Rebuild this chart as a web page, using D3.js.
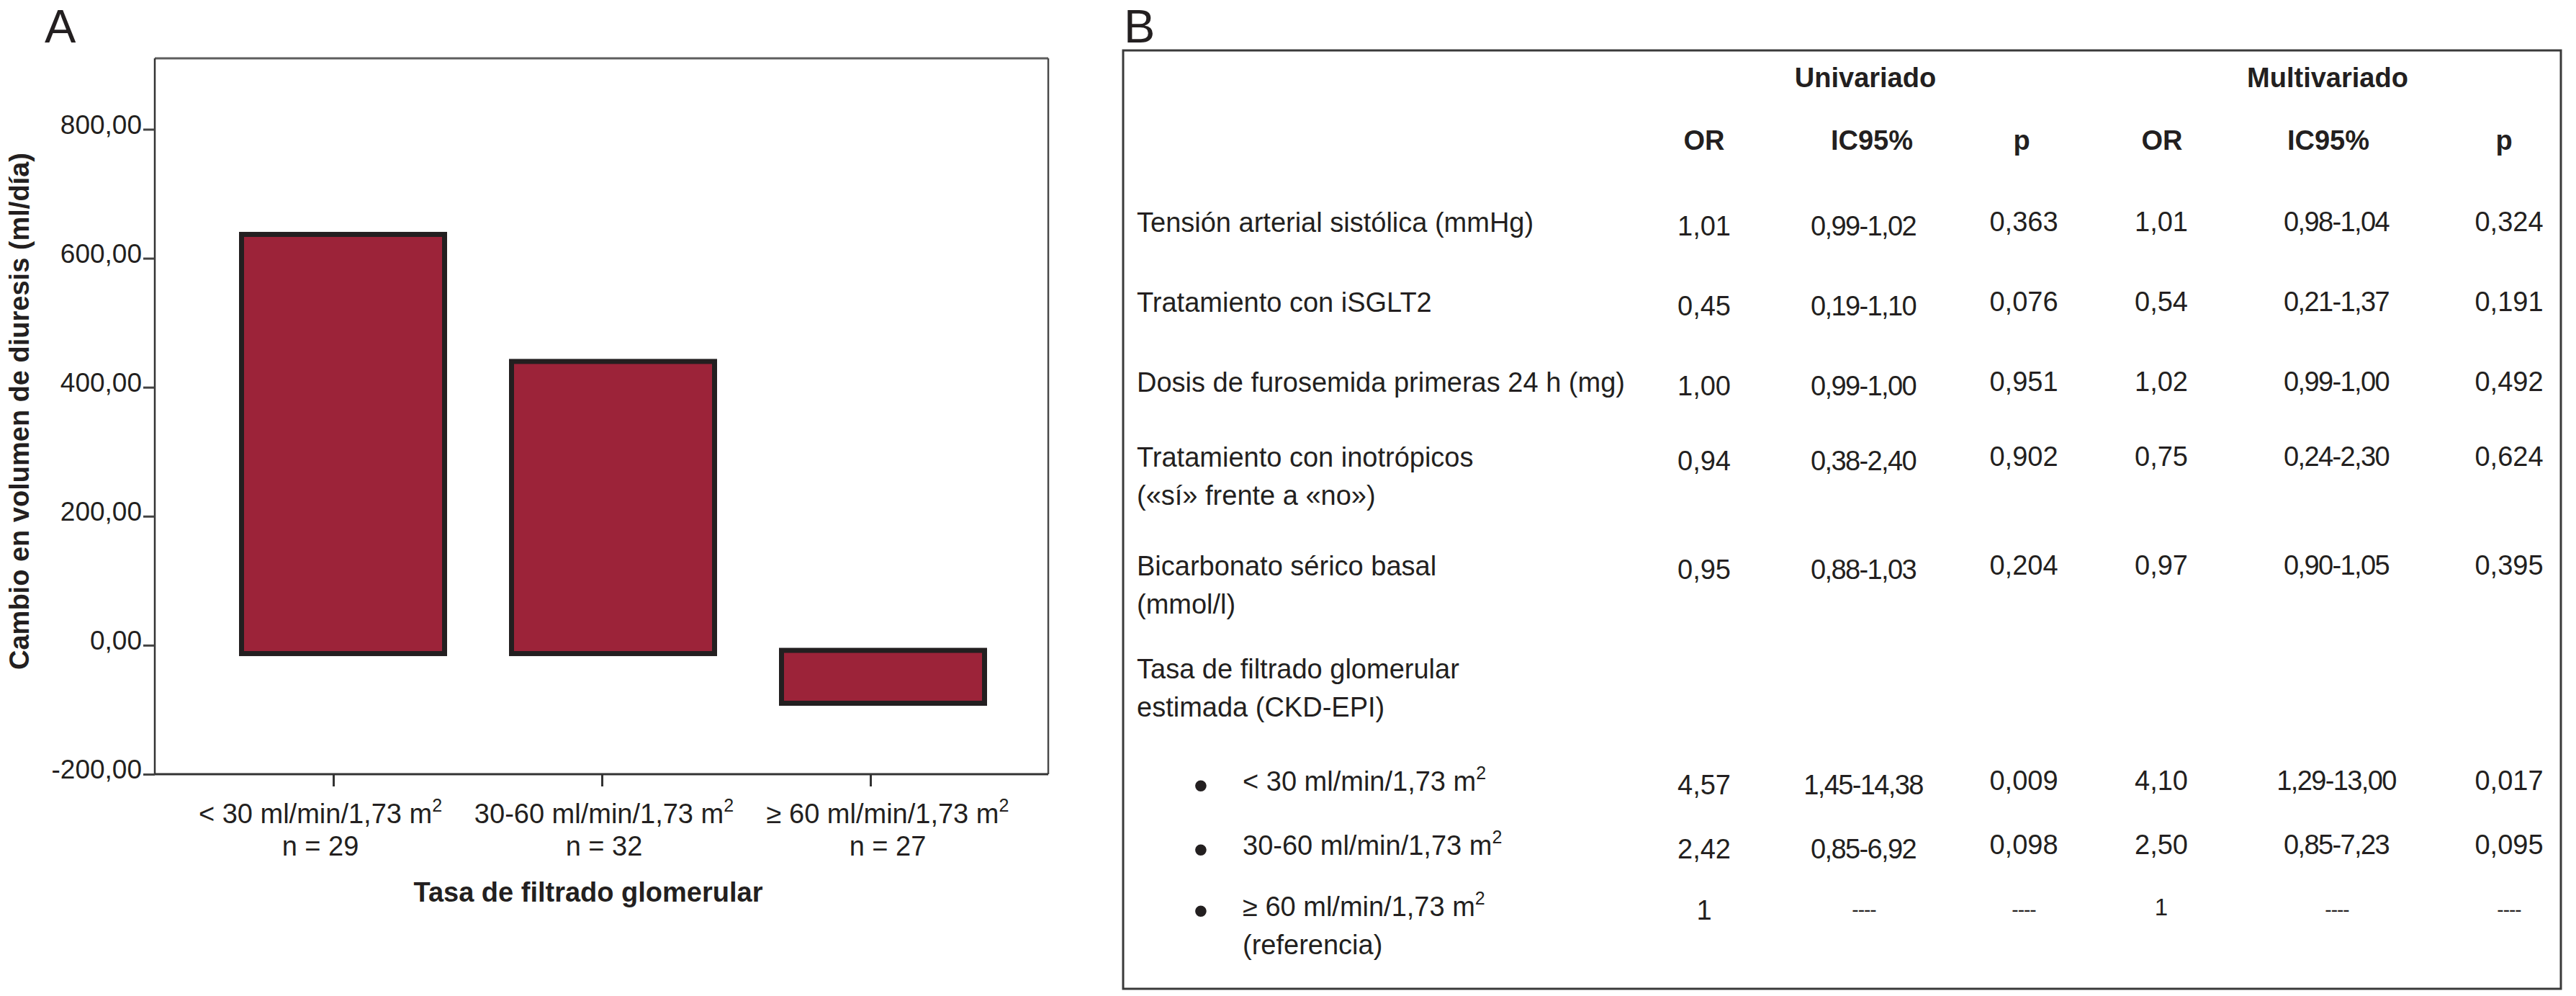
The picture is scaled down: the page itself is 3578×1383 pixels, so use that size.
<!DOCTYPE html>
<html>
<head>
<meta charset="utf-8">
<script src="https://cdn.jsdelivr.net/npm/d3@7"></script>
<style>
html,body{margin:0;padding:0;background:#fff;}
svg{display:block;}
text{font-family:"Liberation Sans", Arial, Helvetica, sans-serif; fill:#231f20;}
</style>
</head>
<body>
<svg id="c" width="3578" height="1383"></svg>
<script>
// ---------------- DATA ----------------
// Panel A: bar chart
const categories = ["< 30 ml/min/1,73 m^2", "30-60 ml/min/1,73 m^2", "\u2265 60 ml/min/1,73 m^2"];
const sampleSizes = ["n = 29", "n = 32", "n = 27"];
const barHigh = [637, 440, -8];      // upper end of each bar (ml/día)
const barLow  = [-13, -13, -90];     // lower end of each bar (ml/día)
const yTickValues = [-200, 0, 200, 400, 600, 800];
const yTitle = "Cambio en volumen de diuresis (ml/día)";
const xTitle = "Tasa de filtrado glomerular";

// Panel B: table
const groupHeaders = ["Univariado", "Multivariado"];
const colHeaders = ["OR", "IC95%", "p", "OR", "IC95%", "p"];
const rowLabels = [
  ["Tensión arterial sistólica (mmHg)"],
  ["Tratamiento con iSGLT2"],
  ["Dosis de furosemida primeras 24 h (mg)"],
  ["Tratamiento con inotrópicos", "(«sí» frente a «no»)"],
  ["Bicarbonato sérico basal", "(mmol/l)"],
  ["Tasa de filtrado glomerular", "estimada (CKD-EPI)"],
  ["< 30 ml/min/1,73 m^2"],
  ["30-60 ml/min/1,73 m^2"],
  ["\u2265 60 ml/min/1,73 m^2", "(referencia)"]
];
const rowBullet = [false, false, false, false, false, false, true, true, true];
const orUni   = ["1,01", "0,45", "1,00", "0,94", "0,95", "", "4,57", "2,42", "1"];
const icUni   = ["0,99-1,02", "0,19-1,10", "0,99-1,00", "0,38-2,40", "0,88-1,03", "", "1,45-14,38", "0,85-6,92", "----"];
const pUni    = ["0,363", "0,076", "0,951", "0,902", "0,204", "", "0,009", "0,098", "----"];
const orMulti = ["1,01", "0,54", "1,02", "0,75", "0,97", "", "4,10", "2,50", "1"];
const icMulti = ["0,98-1,04", "0,21-1,37", "0,99-1,00", "0,24-2,30", "0,90-1,05", "", "1,29-13,00", "0,85-7,23", "----"];
const pMulti  = ["0,324", "0,191", "0,492", "0,624", "0,395", "", "0,017", "0,095", "----"];

// ---------------- LAYOUT ----------------
const svg = d3.select("#c");
const ink = "#231f20";
const frameA = {left: 215, top: 81, right: 1456, bottom: 1075};

function addSup(sel, str, supSize, supDy) {
  const parts = str.split("^");
  sel.append("tspan").text(parts[0]);
  if (parts.length > 1) {
    sel.append("tspan").attr("font-size", supSize).attr("dy", supDy).text(parts[1]);
  }
}

// Panel letters
svg.append("text").attr("x", 62).attr("y", 59).attr("font-size", 65).text("A");
svg.append("text").attr("x", 1561).attr("y", 59).attr("font-size", 65).text("B");

// ---------------- PANEL A ----------------
const y = d3.scaleLinear().domain([-200, 910]).range([frameA.bottom, frameA.top]);
const xBar = d3.scalePoint().domain(categories).range([476.5, 1226.5]);
const xTick = d3.scalePoint().domain(categories).range([463, 1209]);
const xLabel = d3.scalePoint().domain(categories).range([445, 1233]);
const barWidth = 282;

const locale = d3.formatLocale({decimal: ",", thousands: ".", grouping: [3], currency: ["", "€"], minus: "-"});
const fmt = locale.format(".2f");

// frame
const gA = svg.append("g");
gA.append("line").attr("x1", frameA.left).attr("x2", frameA.right).attr("y1", frameA.top).attr("y2", frameA.top)
  .attr("stroke", "#5e5e5e").attr("stroke-width", 3);
gA.append("line").attr("x1", frameA.right).attr("x2", frameA.right).attr("y1", frameA.top).attr("y2", frameA.bottom)
  .attr("stroke", "#4a4a4a").attr("stroke-width", 2.5);

// bars
const bars = categories.map((c, i) => ({c, hi: barHigh[i], lo: barLow[i]}));
gA.selectAll("rect.bar").data(bars).join("rect")
  .attr("class", "bar")
  .attr("x", d => xBar(d.c) - barWidth / 2)
  .attr("width", barWidth)
  .attr("y", d => y(d.hi))
  .attr("height", d => y(d.lo) - y(d.hi))
  .attr("fill", "#9c2339")
  .attr("stroke", ink)
  .attr("stroke-width", 7);

// y axis
const yAxis = gA.append("g").attr("transform", `translate(${frameA.left},0)`)
  .call(d3.axisLeft(y).tickValues(yTickValues).tickSize(16).tickPadding(2).tickFormat(fmt));
yAxis.select(".domain").attr("stroke", "#333").attr("stroke-width", 2.5)
  .attr("d", `M0,${frameA.top}V${frameA.bottom}`);
yAxis.selectAll(".tick line").attr("stroke", "#444").attr("stroke-width", 3);
yAxis.selectAll(".tick text").attr("font-size", 37).attr("dy", "0.16em")
  .attr("font-family", '"Liberation Sans", Arial, sans-serif').attr("fill", ink);

// x axis (ticks)
const xAxis = gA.append("g").attr("transform", `translate(0,${frameA.bottom})`)
  .call(d3.axisBottom(xTick).tickSize(17).tickFormat(""));
xAxis.select(".domain").remove();
xAxis.selectAll(".tick line").attr("stroke", "#333").attr("stroke-width", 3);
gA.append("line").attr("x1", frameA.left).attr("x2", frameA.right).attr("y1", frameA.bottom).attr("y2", frameA.bottom)
  .attr("stroke", "#333").attr("stroke-width", 3);

// x labels
categories.forEach((c, i) => {
  const t = gA.append("text").attr("x", xLabel(c)).attr("y", 1143).attr("text-anchor", "middle").attr("font-size", 38);
  addSup(t, c, 25, -16);
  gA.append("text").attr("x", xLabel(c)).attr("y", 1188).attr("text-anchor", "middle").attr("font-size", 38).text(sampleSizes[i]);
});

// axis titles
gA.append("text").attr("x", 817).attr("y", 1252).attr("text-anchor", "middle")
  .attr("font-size", 38).attr("font-weight", "bold").text(xTitle);
gA.append("text").attr("transform", "translate(40,571) rotate(-90)").attr("text-anchor", "middle")
  .attr("font-size", 38).attr("font-weight", "bold").text(yTitle);

// ---------------- PANEL B ----------------
const gB = svg.append("g");
gB.append("rect").attr("x", 1560).attr("y", 70).attr("width", 1997).attr("height", 1303)
  .attr("fill", "none").attr("stroke", "#3a3a3a").attr("stroke-width", 3);

const headerX = [2367, 2600, 2808, 3003, 3234, 3478];
const valueX  = [2367, 2589, 2811, 3002, 3246, 3485];
const groupX  = [2591, 3233];
const colDy   = [5, 5, -1, -1, -1, -1];
const rowBase = [322, 433, 544, 648, 799, 942, 1098, 1187, 1272];
const lineH = 53;
const labelX = 1579, bulletX = 1668, bulletLabelX = 1726;

groupHeaders.forEach((g, i) => {
  gB.append("text").attr("x", groupX[i]).attr("y", 121).attr("text-anchor", "middle")
    .attr("font-size", 38).attr("font-weight", "bold").text(g);
});
colHeaders.forEach((h, i) => {
  gB.append("text").attr("x", headerX[i]).attr("y", 208).attr("text-anchor", "middle")
    .attr("font-size", 38).attr("font-weight", "bold").text(h);
});

rowLabels.forEach((lines, r) => {
  const lx = rowBullet[r] ? bulletLabelX : labelX;
  if (rowBullet[r]) {
    gB.append("text").attr("x", bulletX).attr("y", rowBase[r] + 12).attr("text-anchor", "middle")
      .attr("font-size", 58).text("\u2022");
  }
  lines.forEach((ln, k) => {
    const t = gB.append("text").attr("x", lx).attr("y", rowBase[r] + k * lineH).attr("font-size", 38);
    addSup(t, ln, 25, -16);
  });
});

const columns = [orUni, icUni, pUni, orMulti, icMulti, pMulti];
columns.forEach((col, c) => {
  col.forEach((v, r) => {
    if (!v) return;
    const isDash = v === "----";
    const isRange = v.indexOf("-") > 0 && !isDash;
    const isRef = v === "1" && c === 3;
    gB.append("text")
      .attr("x", valueX[c] + (isRange ? -1 : 0))
      .attr("y", rowBase[r] + (isDash ? 0 : colDy[c]))
      .attr("text-anchor", "middle")
      .attr("font-size", isDash ? 28 : (isRef ? 33 : 38))
      .attr("letter-spacing", isRange ? "-1.6px" : (isDash ? "-1px" : null))
      .text(v);
  });
});
</script>
</body>
</html>
